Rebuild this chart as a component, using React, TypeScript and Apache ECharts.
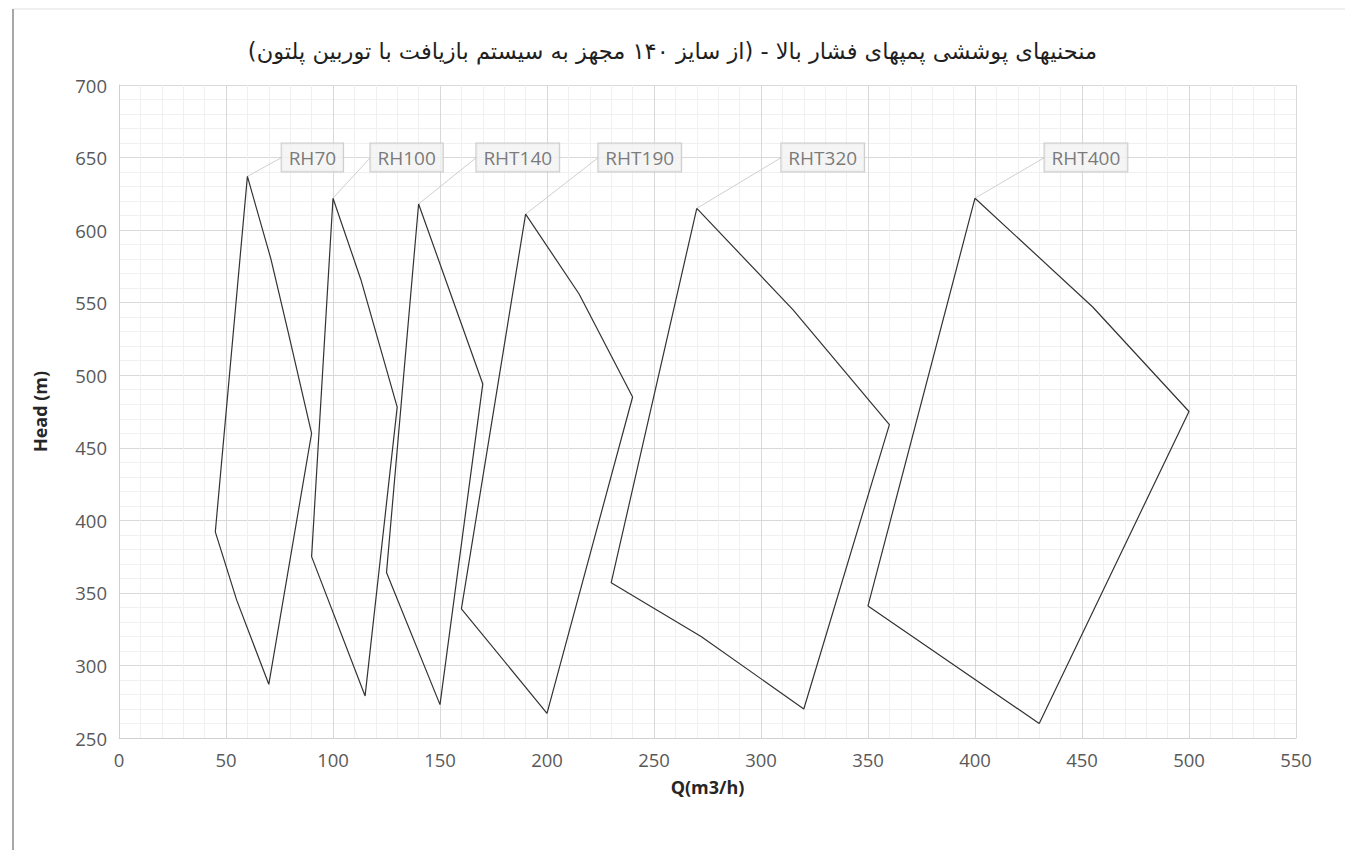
import React, { useEffect, useRef } from "react";
import * as echarts from "echarts";

// ---- data (Q in m3/h, Head in m) ----
const models = ["RH70", "RH100", "RHT140", "RHT190", "RHT320", "RHT400"];

const rh70: number[][] = [[60, 637], [71, 580], [79, 530], [90, 460], [70, 287], [55, 345], [45, 392], [60, 637]];
const rh100: number[][] = [[100, 622], [113, 566], [130, 478], [115, 279], [90, 375], [100, 622]];
const rht140: number[][] = [[140, 618], [155, 556], [170, 494], [150, 273], [125, 364], [140, 618]];
const rht190: number[][] = [[190, 611], [215, 556], [240, 485], [200, 267], [160, 339], [190, 611]];
const rht320: number[][] = [[270, 615], [315, 545], [360, 466], [320, 270], [272, 320], [230, 357], [270, 615]];
const rht400: number[][] = [[400, 622], [455, 547], [500, 475], [430, 260], [350, 341], [400, 622]];

const envelopes = [rh70, rh100, rht140, rht190, rht320, rht400];

// label anchor (left edge of each label box) in data coordinates
const labelQ = [76, 117.5, 167, 224, 309.5, 432.5];
const labelHead = [650, 650, 650, 650, 650, 650];

const xTicks = { min: 0, max: 550, interval: 50 };
const yTicks = { min: 250, max: 700, interval: 50 };

const titleText =
  "منحنیهای پوششی پمپهای فشار بالا - (از سایز ۱۴۰ مجهز به سیستم بازیافت با توربین پلتون)";

const FONT = "'Open Sans', 'Noto Sans', sans-serif";

export default function App() {
  const ref = useRef<HTMLDivElement>(null);

  useEffect(() => {
    if (!ref.current) return;
    const chart = echarts.init(ref.current, undefined, { renderer: "svg" });

    const envelopeSeries = envelopes.map((pts, i) => ({
      name: models[i],
      type: "line",
      data: pts,
      showSymbol: false,
      symbol: "none",
      smooth: false,
      lineStyle: { color: "#333333", width: 1.2 },
      z: 3,
      silent: true,
    }));

    const leaderSeries = envelopes.map((pts, i) => ({
      name: models[i] + "-leader",
      type: "line",
      data: [pts[0], [labelQ[i], labelHead[i]]],
      showSymbol: false,
      symbol: "none",
      lineStyle: { color: "#cfcfcf", width: 1 },
      z: 2,
      silent: true,
    }));

    const labelSeries = {
      name: "labels",
      type: "scatter",
      symbolSize: 0,
      data: models.map((m, i) => ({ value: [labelQ[i], labelHead[i]], name: m })),
      label: {
        show: true,
        position: "right",
        distance: 0,
        formatter: (p: any) => p.name,
        fontFamily: FONT,
        fontSize: 19,
        color: "#595959",
        backgroundColor: "#f2f2f2",
        borderColor: "#bfbfbf",
        borderWidth: 1,
        padding: [5, 7, 4, 7],
      },
      z: 5,
      silent: true,
    };

    chart.setOption({
      animation: false,
      backgroundColor: "#ffffff",
      title: {
        text: titleText + "\u200F",
        left: "center",
        top: 34,
        textStyle: {
          fontFamily: "'DejaVu Sans', sans-serif",
          fontSize: 22.5,
          fontWeight: "normal",
          color: "#1f1f1f",
        },
      },
      graphic: [
        {
          type: "line",
          shape: { x1: 13, y1: 9, x2: 1345, y2: 9 },
          style: { stroke: "#e0e0e0", lineWidth: 1 },
          silent: true,
        },
        {
          type: "line",
          shape: { x1: 13, y1: 9, x2: 13, y2: 850 },
          style: { stroke: "#8a8a8a", lineWidth: 1.5 },
          silent: true,
        },
      ],
      grid: { left: 119, right: 49, top: 85, bottom: 112, containLabel: false },
      xAxis: {
        type: "value",
        min: xTicks.min,
        max: xTicks.max,
        interval: xTicks.interval,
        name: "Q(m3/h)",
        nameLocation: "middle",
        nameGap: 40,
        nameTextStyle: { fontFamily: FONT, fontSize: 18, fontWeight: "bold", color: "#262626" },
        axisLine: { show: true, lineStyle: { color: "#d0d0d0" } },
        axisTick: { show: false },
        axisLabel: { fontFamily: FONT, fontSize: 18.5, color: "#595959", margin: 12 },
        splitLine: { show: true, lineStyle: { color: "#d9d9d9", width: 1 } },
        minorTick: { show: false, splitNumber: 5 },
        minorSplitLine: { show: true, lineStyle: { color: "#f0f0f0", width: 1 } },
      },
      yAxis: {
        type: "value",
        min: yTicks.min,
        max: yTicks.max,
        interval: yTicks.interval,
        name: "Head (m)",
        nameLocation: "middle",
        nameGap: 70,
        nameTextStyle: { fontFamily: FONT, fontSize: 18, fontWeight: "bold", color: "#262626" },
        axisLine: { show: true, lineStyle: { color: "#d0d0d0" } },
        axisTick: { show: false },
        axisLabel: { fontFamily: FONT, fontSize: 18.5, color: "#595959", margin: 12 },
        splitLine: { show: true, lineStyle: { color: "#d9d9d9", width: 1 } },
        minorTick: { show: false, splitNumber: 5 },
        minorSplitLine: { show: true, lineStyle: { color: "#f0f0f0", width: 1 } },
      },
      series: [...envelopeSeries, ...leaderSeries, labelSeries],
    });

    return () => chart.dispose();
  }, []);

  return (
    <div
      ref={ref}
      style={{ position: "absolute", left: 0, top: 0, width: 1345, height: 850 }}
    />
  );
}
